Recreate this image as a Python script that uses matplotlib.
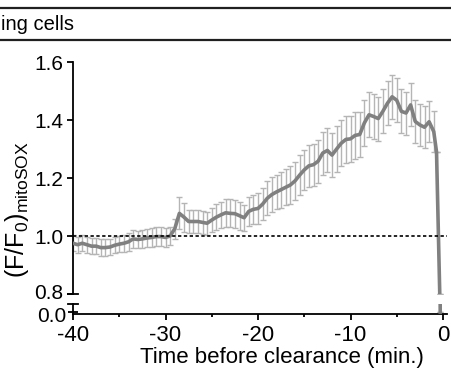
import matplotlib
matplotlib.use('Agg')
import matplotlib.pyplot as plt
from matplotlib.lines import Line2D
from matplotlib.transforms import ScaledTranslation

plt.rcParams['font.family'] = ['Liberation Sans', 'DejaVu Sans']
plt.rcParams['font.size'] = 16

# time before clearance (min.) and normalised mitoSOX signal
time_min = [-40.0, -39.5, -39.0, -38.5, -38.0, -37.5, -37.0, -36.5, -36.0, -35.5,
            -35.0, -34.5, -34.0, -33.5, -33.0, -32.5, -32.0, -31.5, -31.0, -30.5,
            -30.0, -29.5, -29.0, -28.5, -28.0, -27.5, -27.0, -26.5, -26.0, -25.5,
            -25.0, -24.5, -24.0, -23.5, -23.0, -22.5, -22.0, -21.5, -21.0, -20.5,
            -20.0, -19.5, -19.0, -18.5, -18.0, -17.5, -17.0, -16.5, -16.0, -15.5,
            -15.0, -14.5, -14.0, -13.5, -13.0, -12.5, -12.0, -11.5, -11.0, -10.5,
            -10.0, -9.5, -9.0, -8.5, -8.0, -7.5, -7.0, -6.5, -6.0, -5.5,
            -5.0, -4.5, -4.0, -3.5, -3.0, -2.5, -2.0, -1.5, -1.0, -0.7,
            -0.35, -0.3]
ratio = [0.975, 0.970, 0.975, 0.970, 0.965, 0.965, 0.960, 0.960, 0.962, 0.968,
         0.972, 0.975, 0.980, 0.990, 0.988, 0.990, 0.993, 0.995, 0.998, 0.998,
         0.995, 1.000, 1.025, 1.078, 1.065, 1.050, 1.050, 1.050, 1.047, 1.044,
         1.055, 1.065, 1.073, 1.080, 1.078, 1.077, 1.070, 1.063, 1.085, 1.092,
         1.095, 1.110, 1.130, 1.143, 1.152, 1.160, 1.168, 1.176, 1.190, 1.210,
         1.228, 1.242, 1.246, 1.258, 1.286, 1.295, 1.279, 1.300, 1.320, 1.333,
         1.335, 1.347, 1.350, 1.390, 1.418, 1.412, 1.405, 1.430, 1.458, 1.480,
         1.468, 1.430, 1.424, 1.452, 1.395, 1.383, 1.375, 1.394, 1.360, 1.290,
         0.800, 0.000]
sem = [0.028, 0.028, 0.028, 0.028, 0.028, 0.028, 0.028, 0.028, 0.028, 0.028,
       0.028, 0.030, 0.030, 0.030, 0.030, 0.032, 0.032, 0.032, 0.032, 0.032,
       0.032, 0.032, 0.035, 0.055, 0.050, 0.040, 0.040, 0.040, 0.040, 0.040,
       0.042, 0.045, 0.045, 0.048, 0.048, 0.048, 0.048, 0.045, 0.050, 0.050,
       0.052, 0.055, 0.058, 0.060, 0.060, 0.062, 0.062, 0.064, 0.066, 0.068,
       0.070, 0.072, 0.072, 0.074, 0.074, 0.076, 0.076, 0.078, 0.080, 0.080,
       0.080, 0.080, 0.078, 0.078, 0.078, 0.078, 0.076, 0.076, 0.076, 0.076,
       0.076, 0.076, 0.074, 0.074, 0.074, 0.072, 0.072, 0.070, 0.070, 0.0,
       0.0, 0.0]

fig = plt.figure(figsize=(4.51, 3.74), dpi=100)

left = 73 / 451
width = (446.7 - 73) / 451
ax = fig.add_axes([left, 1 - 294 / 374, width, (294 - 62) / 374])
ax_low = fig.add_axes([left, 1 - 314 / 374, width, 10 / 374])

line_col = '#808080'
err_col = '#b5b5b5'

for a in (ax, ax_low):
    a.errorbar(time_min, ratio, yerr=sem, fmt='none', ecolor=err_col,
               elinewidth=1.0, capsize=2.2, capthick=1.0, zorder=2)
    a.plot(time_min, ratio, color=line_col, lw=2.6, zorder=3,
           solid_joinstyle='round')
    a.set_xlim(-40, 0.4)
    a.spines['top'].set_visible(False)
    a.spines['right'].set_visible(False)
    a.spines['left'].set_linewidth(1.3)
    a.spines['bottom'].set_linewidth(1.3)

ax.axhline(1.0, color='black', ls=(0, (2, 1.5)), lw=1.2, zorder=4)

ax.set_ylim(0.8, 1.6)
ax.set_yticks([0.8, 1.0, 1.2, 1.4, 1.6])
ax.set_yticklabels(['0.8', '1.0', '1.2', '1.4', '1.6'])
ax.spines['bottom'].set_visible(False)
ax.tick_params(axis='x', bottom=False, labelbottom=False)
ax.tick_params(axis='y', direction='out', length=4, width=1.3, pad=3, labelsize=15)
# break caps
ax.add_line(Line2D([-0.013, 0.013], [0, 0], transform=ax.transAxes,
                   color='black', lw=1.3, clip_on=False))

ax_low.set_ylim(-0.02, 0.08)
ax_low.set_yticks([0.0])
ax_low.set_yticklabels(['0.0'])
ax_low.tick_params(axis='y', direction='inout', length=7, width=1.3, pad=1, labelsize=15)
ax_low.add_line(Line2D([-0.013, 0.013], [1, 1], transform=ax_low.transAxes,
                       color='black', lw=1.3, clip_on=False))

# nudge the two labels at the break apart a little
up = ScaledTranslation(0, 2 / 72, fig.dpi_scale_trans)
down = ScaledTranslation(0, -1.5 / 72, fig.dpi_scale_trans)
lbl08 = ax.get_yticklabels()[0]
lbl08.set_transform(lbl08.get_transform() + up)
lbl00 = ax_low.get_yticklabels()[0]
lbl00.set_transform(lbl00.get_transform() + down)

ax_low.set_xticks([-40, -30, -20, -10, 0])
ax_low.set_xticklabels(['-40', '-30', '-20', '-10', '0'])
ax_low.set_xticks([-35, -25, -15, -5], minor=True)
ax_low.tick_params(axis='x', which='major', direction='out', length=4, width=1.3,
                   pad=4, labelsize=16)
ax_low.tick_params(axis='x', which='minor', direction='out', length=2.5, width=1.3)
ax_low.set_xlabel('Time before clearance (min.)', fontsize=16, va='center')
ax_low.xaxis.set_label_coords(0.559, -4.3)

fig.text(17 / 451, (374 - 210) / 374, r'(F/F$\mathregular{_0}$)$\mathregular{_{mitoSOX}}$',
         rotation=90, ha='center', va='center', fontsize=18)

# header band of the cropped panel
fig.add_artist(Line2D([0, 1], [1 - 7.5 / 374] * 2, color='#202020', lw=1.6))
fig.add_artist(Line2D([0, 1], [1 - 40 / 374] * 2, color='#202020', lw=1.6))
fig.text(0.002, 1 - 24 / 374, 'ing cells', ha='left', va='center', fontsize=14.5)

fig.savefig('out.png', dpi=100)
